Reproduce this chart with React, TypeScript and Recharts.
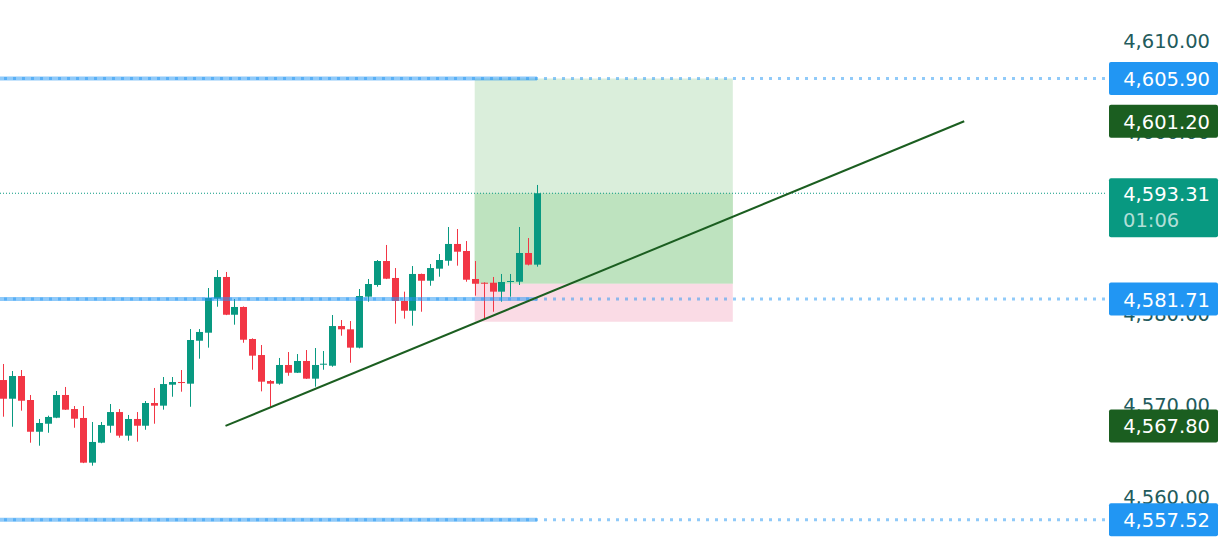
import { ComposedChart, Bar, XAxis, YAxis, ReferenceLine, ReferenceArea } from 'recharts';

// OHLC, oldest first
const opens = [
  4572.83, 4570.78, 4573.27, 4570.64, 4567.16, 4568.04, 4568.7, 4571.19, 4569.65, 4568.67,
  4563.77, 4565.96, 4567.82, 4569.32, 4566.73, 4568.56, 4567.82, 4570.31, 4570.02, 4572.32,
  4572.61, 4572.43, 4577.14, 4578.02, 4581.75, 4584.13, 4579.99, 4580.84, 4577.33, 4575.57,
  4572.72, 4572.43, 4574.48, 4573.63, 4574.92, 4572.98, 4574.51, 4574.4, 4578.75, 4578.39,
  4576.38, 4581.97, 4583.25, 4585.88, 4584.02, 4581.5, 4580.43, 4584.46, 4583.72, 4585.04,
  4585.91, 4587.75, 4586.98, 4583.91, 4583.5, 4583.5, 4582.52, 4583.58, 4583.61, 4586.76,
  4585.48,
];
const highs = [
  4574.59, 4573.82, 4573.93, 4571.19, 4568.56, 4568.92, 4571.63, 4572.07, 4569.98, 4569.98,
  4568.23, 4568.23, 4570.2, 4569.65, 4569.0, 4569.32, 4570.53, 4571.96, 4573.16, 4573.16,
  4573.93, 4578.42, 4578.42, 4582.92, 4584.89, 4584.68, 4581.72, 4580.9, 4577.4, 4576.67,
  4572.83, 4575.25, 4575.9, 4575.68, 4576.12, 4576.34, 4576.01, 4579.96, 4579.41, 4579.3,
  4582.81, 4583.91, 4585.99, 4587.64, 4585.11, 4582.52, 4585.33, 4584.5, 4585.55, 4586.65,
  4589.61, 4589.39, 4588.07, 4585.88, 4583.55, 4584.13, 4584.46, 4584.46, 4589.61, 4588.4,
  4594.22,
];
const lows = [
  4568.81, 4567.71, 4569.47, 4565.96, 4565.63, 4567.05, 4568.65, 4569.55, 4567.6, 4563.72,
  4563.44, 4565.9, 4567.05, 4566.51, 4566.18, 4566.07, 4567.38, 4568.04, 4569.58, 4571.0,
  4571.55, 4569.9, 4575.17, 4576.38, 4580.87, 4579.95, 4578.9, 4576.92, 4573.96, 4571.59,
  4569.8, 4572.32, 4573.3, 4573.6, 4572.95, 4572.1, 4573.96, 4574.29, 4577.69, 4574.73,
  4576.3, 4581.42, 4583.06, 4583.9, 4579.01, 4579.56, 4578.79, 4580.32, 4583.17, 4584.16,
  4585.37, 4585.37, 4583.61, 4582.08, 4579.49, 4580.32, 4581.42, 4581.97, 4583.25, 4585.4,
  4585.26,
];
const closes = [
  4570.78, 4573.27, 4570.56, 4567.16, 4568.12, 4568.78, 4571.19, 4569.58, 4568.59, 4563.77,
  4566.04, 4567.9, 4569.32, 4566.73, 4568.56, 4567.82, 4570.31, 4570.02, 4572.39, 4572.61,
  4572.54, 4577.22, 4578.1, 4581.82, 4584.13, 4579.99, 4580.84, 4577.25, 4575.5, 4572.65,
  4572.43, 4574.48, 4573.63, 4574.92, 4572.98, 4574.48, 4574.62, 4578.75, 4578.39, 4576.38,
  4582.04, 4583.36, 4585.88, 4583.94, 4581.5, 4580.43, 4584.46, 4583.72, 4585.11, 4585.99,
  4587.75, 4586.9, 4583.83, 4583.39, 4583.39, 4582.52, 4583.58, 4583.69, 4586.76, 4585.48,
  4593.31,
];

// levels drawn on the chart
const upperLevel = 4605.9;
const middleLevel = 4581.71;
const lowerLevel = 4557.52;
const lastPrice = 4593.31;
const countdown = '01:06';
const entryPrice = 4583.39;
const stopPrice = 4579.22;
const trendStart = { x: 25, y: 4567.8 };
const trendEnd = { x: 108, y: 4601.2 };
const positionFrom = 53;
const positionTo = 82;
const priceTicks = [4560, 4570, 4580, 4590, 4600, 4610];

const X_MIN = -0.337;
const X_MAX = 123.82;
const Y_MIN = 4555.29;
const Y_MAX = 4614.5;

const UP = '#089981';
const DOWN = '#f23645';
const BLUE = '#2196f3';
const DARK_GREEN = '#1b5e20';
const FONT = '"DejaVu Sans", sans-serif';

const chartData = opens.map((o, i) => ({
  i,
  o,
  h: highs[i],
  l: lows[i],
  c: closes[i],
  range: [lows[i], highs[i]],
}));

const fmt = (v: number) =>
  v.toLocaleString('en-US', { minimumFractionDigits: 2, maximumFractionDigits: 2 });

const Candle = (props: any) => {
  const { x, y, width, height, payload } = props;
  if (!payload || height == null) return null;
  const { o, h, l, c } = payload;
  const k = height / (h - l || 1);
  const top = y + (h - Math.max(o, c)) * k;
  const bodyH = Math.max(1, Math.abs(o - c) * k);
  const color = c >= o ? UP : DOWN;
  const cx = Math.round(x + width / 2);
  return (
    <g>
      <rect x={cx} y={y} width={1} height={height} fill={color} />
      <rect x={cx - 3} y={top} width={7} height={bodyH} fill={color} />
    </g>
  );
};

// axis price text, drawn as a label so the tags can sit on top of it
const TickLabel = (props: any) => {
  const { viewBox, value } = props;
  if (!viewBox) return null;
  return (
    <text x={1210} y={viewBox.y} textAnchor="end" dominantBaseline="central" fill="#235b5c" fontSize={19.5} fontFamily={FONT}>
      {fmt(value)}
    </text>
  );
};

const PriceTag = (props: any) => {
  const { viewBox, fill, text, sub } = props;
  if (!viewBox) return null;
  const cy = viewBox.y;
  const left = viewBox.x + viewBox.width + 4;
  const h = sub ? 59 : 33;
  const top = sub ? cy - 15 : cy - h / 2;
  return (
    <g>
      <rect x={left} y={top} width={109} height={h} rx={2} fill={fill} />
      <text x={1210} y={cy + 1} textAnchor="end" dominantBaseline="central" fill="#fff" fontSize={19.5} fontFamily={FONT}>
        {text}
      </text>
      {sub && (
        <text x={left + 14} y={cy + 27} textAnchor="start" dominantBaseline="central" fill="rgba(255,255,255,0.7)" fontSize={19.5} fontFamily={FONT}>
          {sub}
        </text>
      )}
    </g>
  );
};

const hLevel = (value: number) => [
  <ReferenceLine
    key={`d${value}`}
    y={value}
    stroke={BLUE}
    strokeOpacity={0.5}
    strokeWidth={3}
    strokeDasharray="3 6"
    label={<PriceTag fill={BLUE} text={fmt(value)} />}
  />,
  <ReferenceLine
    key={`s${value}`}
    segment={[{ x: X_MIN, y: value }, { x: chartData.length - 1, y: value }]}
    stroke={BLUE}
    strokeOpacity={0.5}
    strokeWidth={4}
  />,
];

export default function App() {
  return (
    <div style={{ position: 'absolute', left: 0, top: 0, width: 1224, height: 540, background: '#fff' }}>
      <ComposedChart width={1224} height={540} data={chartData} margin={{ top: 0, right: 0, bottom: 0, left: 0 }}>
        <XAxis type="number" dataKey="i" domain={[X_MIN, X_MAX]} allowDataOverflow hide />
        <YAxis
          orientation="right"
          domain={[Y_MIN, Y_MAX]}
          allowDataOverflow
          ticks={priceTicks}
          width={119}
          axisLine={false}
          tickLine={false}
          tick={false}
        />
        {priceTicks.map((t) => (
          <ReferenceLine key={`t${t}`} y={t} stroke="none" label={<TickLabel value={t} />} />
        ))}
        <ReferenceArea x1={positionFrom} x2={positionTo} y1={entryPrice} y2={upperLevel} fill="#daeedb" fillOpacity={1} stroke="none" />
        <ReferenceArea x1={positionFrom} x2={positionTo} y1={entryPrice} y2={lastPrice} fill="#bee3bf" fillOpacity={1} stroke="none" />
        <ReferenceArea x1={positionFrom} x2={positionTo} y1={stopPrice} y2={entryPrice} fill="#fadbe5" fillOpacity={1} stroke="none" />
        <Bar dataKey="range" barSize={7} shape={<Candle />} isAnimationActive={false} />
        <ReferenceLine
          y={lastPrice}
          stroke={UP}
          strokeWidth={1}
          strokeDasharray="1 2"
          label={<PriceTag fill={UP} text={fmt(lastPrice)} sub={countdown} />}
        />
        {hLevel(upperLevel)}
        {hLevel(middleLevel)}
        {hLevel(lowerLevel)}
        <ReferenceLine segment={[trendStart, trendEnd]} stroke={DARK_GREEN} strokeWidth={2} />
        <ReferenceLine y={trendEnd.y} stroke="none" label={<PriceTag fill={DARK_GREEN} text={fmt(trendEnd.y)} />} />
        <ReferenceLine y={trendStart.y} stroke="none" label={<PriceTag fill={DARK_GREEN} text={fmt(trendStart.y)} />} />
      </ComposedChart>
    </div>
  );
}
